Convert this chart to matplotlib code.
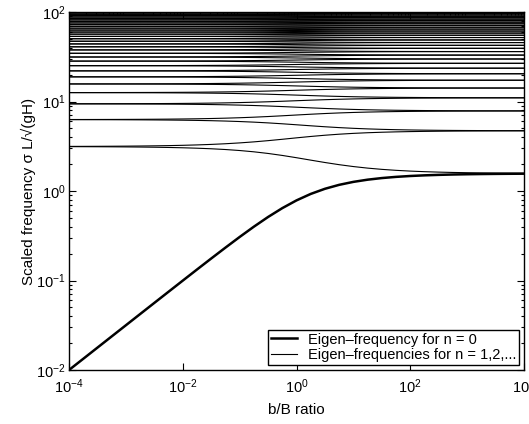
import matplotlib
matplotlib.use("Agg")
import matplotlib.pyplot as plt
from matplotlib.ticker import LogLocator, NullFormatter

plt.rcParams['font.family'] = ['Liberation Sans', 'DejaVu Sans']
plt.rcParams['mathtext.fontset'] = 'custom'
plt.rcParams['mathtext.rm'] = 'Liberation Sans'
plt.rcParams['mathtext.it'] = 'Liberation Sans:italic'

# b/B ratio sample points (quarter decades)
ratio = [1e-4, 1.778e-4, 3.162e-4, 5.623e-4,
         1e-3, 1.778e-3, 3.162e-3, 5.623e-3,
         1e-2, 1.778e-2, 3.162e-2, 5.623e-2,
         1e-1, 1.778e-1, 3.162e-1, 5.623e-1,
         1e0, 1.778e0, 3.162e0, 5.623e0,
         1e1, 1.778e1, 3.162e1, 5.623e1,
         1e2, 1.778e2, 3.162e2, 5.623e2,
         1e3, 1.778e3, 3.162e3, 5.623e3,
         1e4]

# n = 0 eigen-frequency (also the split offset of higher modes)
freq_n0 = [0.0100, 0.01333, 0.01778, 0.02371,
           0.03161, 0.04215, 0.05618, 0.07485,
           0.09967, 0.1326, 0.1760, 0.2328,
           0.3063, 0.3991, 0.5123, 0.6434,
           0.7854, 0.9274, 1.0585, 1.1717,
           1.2645, 1.3380, 1.3948, 1.4382,
           1.4711, 1.4959, 1.5146, 1.5287,
           1.5392, 1.5471, 1.5530, 1.5575,
           1.5608]

# base levels of higher modes at small b/B (each splits into two branches)
mode_levels = [3.14, 6.28, 9.42, 12.57, 15.71, 18.85, 21.99, 25.13,
               28.27, 31.42, 34.56, 37.70, 40.84, 43.98, 47.12, 50.27,
               53.41, 56.55, 59.69, 62.83, 65.97, 69.12, 72.26, 75.40,
               78.54, 81.68, 84.82, 87.96, 91.11, 94.25, 97.39, 100.53]

fig = plt.figure(figsize=(5.29, 4.24), dpi=100)
ax = fig.add_axes([69/529, 1 - 370/424, (524 - 69)/529, (370 - 12)/424])

h0, = ax.loglog(ratio, freq_n0, color='black', lw=1.8,
                label='Eigen–frequency for n = 0')
h1 = None
for lev in mode_levels:
    up = [lev + f for f in freq_n0]
    dn = [lev - f for f in freq_n0]
    l1, = ax.loglog(ratio, up, color='black', lw=0.8)
    ax.loglog(ratio, dn, color='black', lw=0.8)
    if h1 is None:
        h1 = l1
h1.set_label('Eigen–frequencies for n = 1,2,...')

ax.set_xlim(1e-4, 1e4)
ax.set_ylim(1e-2, 1e2)
ax.set_xticks([1e-4, 1e-2, 1e0, 1e2, 1e4])
ax.xaxis.set_minor_formatter(NullFormatter())
ax.tick_params(axis='x', which='minor', top=False, bottom=False)
ax.yaxis.set_minor_locator(LogLocator(base=10, subs=range(2, 10), numticks=100))
ax.yaxis.set_minor_formatter(NullFormatter())

ax.tick_params(which='both', direction='in', top=True, right=True,
               labelsize=10.5, width=0.8)
ax.tick_params(which='major', length=5)
ax.tick_params(axis='x', which='major', pad=5)
ax.tick_params(axis='y', which='major', pad=2.5)
ax.tick_params(which='minor', length=2.5)
for s in ax.spines.values():
    s.set_linewidth(1.0)

ax.set_xlabel('b/B ratio', fontsize=11)
ax.set_ylabel('Scaled frequency σ L/√(gH)', fontsize=11)
ax.xaxis.set_label_coords(0.5, -0.093)
ax.yaxis.set_label_coords(-0.073, 0.5)

leg = ax.legend(handles=[h0, h1], loc='lower right', fontsize=10.5,
                frameon=True, fancybox=False, edgecolor='black',
                framealpha=1, borderaxespad=0.35, borderpad=0.2,
                labelspacing=0.1, handlelength=1.8, handletextpad=0.7)
leg.get_frame().set_linewidth(1.0)

fig.savefig('out.png', dpi=100)
